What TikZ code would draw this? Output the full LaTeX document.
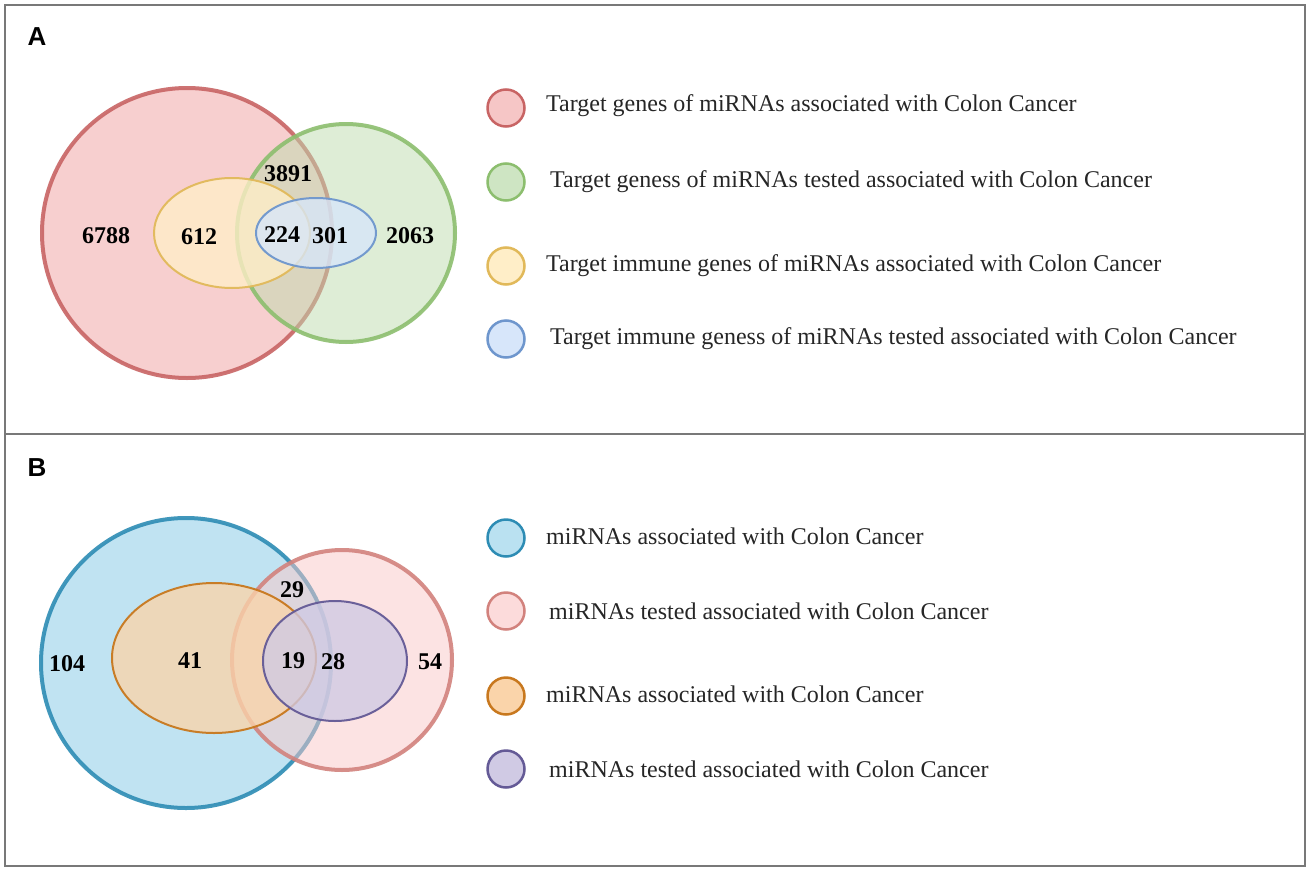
\documentclass[tikz,border=0pt]{standalone}
\usepackage{fontspec}
\setmainfont{Liberation Serif}
\newfontfamily\panelfont{Liberation Sans}
\definecolor{frameC}{RGB}{120,120,120}
\definecolor{aRedL}{RGB}{200,100,100}
\definecolor{aRedF}{RGB}{240,160,160}
\definecolor{aGreenL}{RGB}{140,190,110}
\definecolor{aGreenF}{RGB}{190,220,175}
\definecolor{aYelL}{RGB}{225,185,90}
\definecolor{aYelF}{RGB}{255,238,200}
\definecolor{aBlueL}{RGB}{110,150,205}
\definecolor{aBlueF}{RGB}{215,230,250}
\definecolor{bBlueL}{RGB}{45,140,180}
\definecolor{bBlueF}{RGB}{130,200,230}
\definecolor{bPinkL}{RGB}{210,130,125}
\definecolor{bPinkF}{RGB}{250,200,200}
\definecolor{bOrL}{RGB}{200,120,30}
\definecolor{bOrF}{RGB}{250,212,170}
\definecolor{bPurL}{RGB}{100,90,150}
\definecolor{bPurF}{RGB}{208,202,228}
\tikzset{
  bigset/.style={line width=4pt, draw opacity=0.9, fill opacity=0.5},
  smallset/.style={line width=2pt, draw opacity=0.95, fill opacity=0.78},
  num/.style={font=\fontsize{24}{28}\selectfont\bfseries, inner sep=0pt},
  legtext/.style={font=\fontsize{24}{28}\selectfont, anchor=west, inner sep=0pt, text=black!85},
  legdot/.style={circle, minimum size=37pt, inner sep=0pt, line width=2.5pt},
  panellabel/.style={font=\panelfont\fontsize{26}{30}\selectfont\bfseries, inner sep=0pt},
}
\begin{document}
\begin{tikzpicture}[x=1pt,y=-1pt]
\useasboundingbox (0,0) rectangle (1311,875);
\fill[white] (0,0) rectangle (1311,875);
% frame
\draw[frameC, line width=1.5pt] (5,5) rectangle (1305,866);
\draw[frameC, line width=1.2pt] (5,434) -- (1305,434);
% ---------- Panel A ----------
\node[panellabel] (labA) at (37,37) {A};
\draw[bigset, draw=aRedL, fill=aRedF] (187,233) circle (145);
\draw[bigset, draw=aGreenL, fill=aGreenF] (346,233) circle (109);
\draw[smallset, draw=aYelL, fill=aYelF] (232,233) ellipse (78 and 55);
\draw[smallset, draw=aBlueL, fill=aBlueF] (316,233) ellipse (60 and 35);
\node[num] (nA1) at (106,236) {6788};
\node[num] (nA2) at (199,237) {612};
\node[num] (nA3) at (282,235) {224};
\node[num] (nA4) at (330,236) {301};
\node[num] (nA5) at (410,236) {2063};
\node[num] (nA6) at (288,174) {3891};
% legend A
\node[legdot, draw=aRedL, fill=aRedF!60] (dA1) at (506,108) {};
\node[legdot, draw=aGreenL, fill=aGreenF!75] (dA2) at (506,182) {};
\node[legdot, draw=aYelL, fill=aYelF] (dA3) at (506,266) {};
\node[legdot, draw=aBlueL, fill=aBlueF] (dA4) at (506,339) {};
\node[legtext] (tA1) at (546,106) {Target genes of miRNAs associated with Colon Cancer};
\node[legtext] (tA2) at (550,182) {Target geness of miRNAs tested associated with Colon Cancer};
\node[legtext] (tA3) at (546,266) {Target immune genes of miRNAs associated with Colon Cancer};
\node[legtext] (tA4) at (550,339) {Target immune geness of miRNAs tested associated with Colon Cancer};
% ---------- Panel B ----------
\node[panellabel] (labB) at (37,468) {B};
\draw[bigset, draw=bBlueL, fill=bBlueF] (186,663) circle (145);
\draw[bigset, draw=bPinkL, fill=bPinkF] (342,660) circle (110);
\draw[smallset, draw=bOrL, fill=bOrF] (214,658) ellipse (102 and 75);
\draw[smallset, draw=bPurL, fill=bPurF] (335,661) ellipse (72 and 60);
\node[num] (nB1) at (67,664) {104};
\node[num] (nB2) at (190,661) {41};
\node[num] (nB3) at (293,661) {19};
\node[num] (nB4) at (333,662) {28};
\node[num] (nB5) at (430,662) {54};
\node[num] (nB6) at (292,590) {29};
% legend B
\node[legdot, draw=bBlueL, fill=bBlueF!55] (dB1) at (506,538) {};
\node[legdot, draw=bPinkL, fill=bPinkF!65] (dB2) at (506,611) {};
\node[legdot, draw=bOrL, fill=bOrF] (dB3) at (506,696) {};
\node[legdot, draw=bPurL, fill=bPurF] (dB4) at (506,769) {};
\node[legtext] (tB1) at (546,536) {miRNAs associated with Colon Cancer};
\node[legtext] (tB2) at (549,611) {miRNAs tested associated with Colon Cancer};
\node[legtext] (tB3) at (546,694) {miRNAs associated with Colon Cancer};
\node[legtext] (tB4) at (549,769) {miRNAs tested associated with Colon Cancer};
\end{tikzpicture}
\end{document}
